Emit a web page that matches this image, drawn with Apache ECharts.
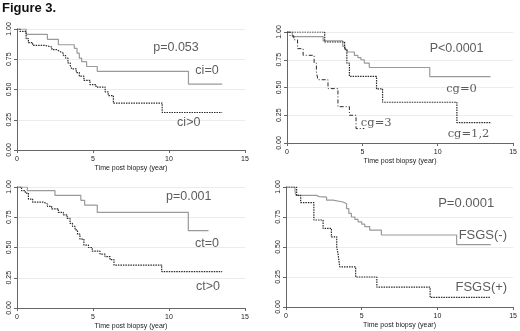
<!DOCTYPE html>
<html>
<head>
<meta charset="utf-8">
<script src="https://cdn.jsdelivr.net/npm/echarts@6/dist/echarts.min.js"></script>
<style>
  html, body { margin: 0; padding: 0; background: #fff; }
  #fig { width: 520px; height: 331px; }
</style>
</head>
<body>
<div id="fig"></div>
<script>
// Kaplan-Meier steps: [time (year), survival after the step]
var ciZero = [[0,1],[0.6,0.955],[2.0,0.915],[2.72,0.87],[3.77,0.84],[3.95,0.80],[4.1,0.76],[4.25,0.73],[4.58,0.69],[5.28,0.65],[11.28,0.545],[13.5,0.545]];
var ciPos = [[0,1],[0.2,0.98],[0.6,0.92],[0.75,0.887],[1.03,0.865],[1.84,0.85],[2.3,0.83],[2.6,0.815],[2.8,0.80],[3.05,0.78],[3.2,0.76],[3.35,0.72],[3.5,0.70],[3.6,0.67],[3.9,0.64],[4.1,0.61],[4.4,0.576],[4.8,0.54],[5.2,0.52],[5.8,0.48],[6.0,0.45],[6.34,0.388],[9.55,0.31],[13.5,0.31]];

var cgZero = [[0,1],[0.35,0.958],[2.4,0.92],[3.7,0.87],[3.85,0.84],[4.0,0.82],[4.47,0.79],[4.7,0.77],[4.9,0.75],[5.13,0.72],[5.46,0.68],[9.47,0.598],[13.5,0.598]];
var cgOneTwo = [[0,1],[2.5,0.91],[3.82,0.845],[3.97,0.72],[4.14,0.60],[5.94,0.487],[6.34,0.367],[11.27,0.183],[13.5,0.183]];
var cgThree = [[0,1],[0.2,0.966],[0.45,0.93],[0.7,0.85],[1.07,0.79],[1.8,0.72],[1.95,0.64],[2.05,0.57],[2.72,0.49],[3.38,0.327],[4.14,0.25],[4.58,0.13],[5.13,0.13]];

var ctZero = [[0,1],[0.68,0.97],[2.5,0.93],[4.2,0.89],[4.45,0.85],[5.28,0.79],[11.27,0.64],[12.6,0.64]];
var ctPos = [[0,1],[0.3,0.97],[0.55,0.95],[0.75,0.90],[1.03,0.875],[1.73,0.86],[2.0,0.84],[2.28,0.82],[2.72,0.79],[3.05,0.77],[3.3,0.74],[3.49,0.70],[3.65,0.675],[3.82,0.645],[3.98,0.61],[4.14,0.57],[4.4,0.52],[4.7,0.50],[4.95,0.47],[5.46,0.446],[5.79,0.425],[6.12,0.40],[6.38,0.355],[9.52,0.30],[13.5,0.30]];

var fsgsNeg = [[0,1],[0.6,0.96],[0.66,0.93],[2.0,0.92],[2.2,0.915],[2.68,0.89],[3.1,0.875],[3.77,0.86],[4.0,0.82],[4.15,0.78],[4.32,0.75],[4.55,0.73],[4.76,0.71],[5.0,0.69],[5.2,0.67],[5.53,0.64],[6.3,0.60],[11.27,0.52],[13.53,0.52]];
var fsgsPos = [[0,1],[0.7,0.93],[0.97,0.87],[1.84,0.725],[2.45,0.655],[3.0,0.585],[3.35,0.50],[3.45,0.43],[3.55,0.335],[4.6,0.25],[6.0,0.165],[9.52,0.08],[13.5,0.08]];

// annotation text: [x, y, label]
var notes1 = [[10.46,0.843,'p=0.053'],[12.5,0.653,'ci=0'],[11.3,0.223,'ci>0']];
var notes2 = [[11.25,0.847,'P<0.0001']];
var notes2serif = [[11.58,0.486,'cg=0'],[12.04,0.081,'cg=1,2'],[5.92,0.18,'cg=3']];
var notes3 = [[11.3,0.917,'p=0.001'],[12.5,0.53,'ct=0'],[12.57,0.18,'ct>0']];
var notes4 = [[11.9,0.867,'P=0.0001'],[13.0,0.60,'FSGS(-)'],[12.9,0.167,'FSGS(+)']];

var xTicks = [0, 5, 10, 15];
var yTicks = [0, 0.25, 0.5, 0.75, 1];

var myChart = echarts.init(document.getElementById('fig'), null, {renderer: 'canvas'});

var grids = [
  {left: 17, top: 29, width: 228, height: 121},
  {left: 287, top: 32, width: 228, height: 111},
  {left: 17, top: 187, width: 228, height: 121},
  {left: 286, top: 187, width: 228, height: 120}
];

function xAx(i) {
  return {
    type: 'value', gridIndex: i, min: 0, max: 15, interval: 5, offset: 3,
    name: 'Time post biopsy (year)', nameLocation: 'middle', nameGap: 12,
    nameTextStyle: {fontSize: 7, color: '#222', fontFamily: 'Liberation Sans'},
    axisLine: {show: true, lineStyle: {color: '#666', width: 1}},
    axisTick: {show: true, length: 3, lineStyle: {color: '#666'}},
    axisLabel: {fontSize: 7, color: '#222', margin: 3, fontFamily: 'Liberation Sans'},
    splitLine: {show: false}
  };
}
function yAx(i) {
  return {
    type: 'value', gridIndex: i, min: 0, max: 1, interval: 0.25,
    axisLine: {show: true, lineStyle: {color: '#666', width: 1}},
    axisTick: {show: true, length: 3, lineStyle: {color: '#666'}},
    axisLabel: {fontSize: 7, color: '#222', rotate: 90, margin: 4, fontFamily: 'Liberation Sans',
      formatter: function (v) { return v.toFixed(2); }},
    splitLine: {show: true, lineStyle: {color: '#ececec', width: 1}}
  };
}

function km(i, data, color, type, width) {
  return {
    type: 'line', xAxisIndex: i, yAxisIndex: i, data: data, step: 'end',
    symbol: 'none', silent: true, animation: false,
    lineStyle: {color: color, width: width, type: type}
  };
}
function notes(i, list, font, size) {
  return {
    type: 'scatter', xAxisIndex: i, yAxisIndex: i, symbolSize: 0, silent: true,
    data: list.map(function (n) { return {value: [n[0], n[1]], name: n[2]}; }),
    label: {show: true, position: 'inside', formatter: '{b}', color: '#333',
      fontSize: size, fontFamily: font}
  };
}

var solid = '#9a9a9a';
var dark = '#2a2a2a';

var option = {
  animation: false,
  grid: grids,
  xAxis: [xAx(0), xAx(1), xAx(2), xAx(3)],
  yAxis: [yAx(0), yAx(1), yAx(2), yAx(3)],
  graphic: [{
    type: 'text', left: 2, top: 2,
    style: {text: 'Figure 3.', font: 'bold 13px "Liberation Sans", Arial', fill: '#111'}
  }],
  series: [
    km(0, ciZero, solid, 'solid', 1.2),
    km(0, ciPos, dark, [1.5, 1], 1.2),
    km(1, cgZero, solid, 'solid', 1.2),
    km(1, cgOneTwo, dark, [1.5, 1], 1.2),
    km(1, cgThree, dark, [4, 2, 1, 2], 1),
    km(2, ctZero, solid, 'solid', 1.2),
    km(2, ctPos, dark, [1.5, 1], 1.2),
    km(3, fsgsNeg, solid, 'solid', 1.2),
    km(3, fsgsPos, dark, [1.5, 1], 1.2),
    notes(0, notes1, 'Liberation Sans', 12.5),
    notes(1, notes2, 'Liberation Sans', 12.5),
    notes(1, notes2serif, 'DejaVu Serif', 11.5),
    notes(2, notes3, 'Liberation Sans', 12.5),
    notes(3, notes4, 'Liberation Sans', 13)
  ]
};

myChart.setOption(option);
window.onresize = myChart.resize;
</script>
</body>
</html>
